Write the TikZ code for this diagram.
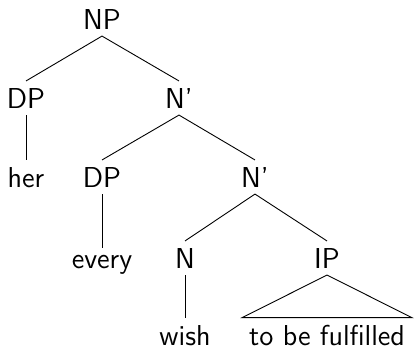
\documentclass[tikz,border=0pt]{standalone}
\begin{document}
\begin{tikzpicture}[x=0.5pt,y=-0.5pt,
  lbl/.style={anchor=base,inner sep=0.3333em,font=\fontsize{14.4}{17}\selectfont\sffamily},
  edge/.style={line width=0.45pt}]
\useasboundingbox (0,0) rectangle (417,350);
% node labels, placed on their baselines
\node[lbl] (np)    at (102,29)  {NP};
\node[lbl] (dpa)   at (26,108)  {DP};
\node[lbl] (nba)   at (179,108) {N'};
\node[lbl] (her)   at (26,187)  {her};
\node[lbl] (dpb)   at (102,187) {DP};
\node[lbl] (nbb)   at (255,187) {N'};
\node[lbl] (every) at (102,268) {every};
\node[lbl] (n)     at (185,268) {N};
\node[lbl] (ip)    at (327,268) {IP};
\node[lbl] (wish)  at (185,345) {wish};
\node[lbl] (tbf)   at (327,345) {to be fulfilled};
% branches
\draw[edge] (np.south) -- (dpa.north);
\draw[edge] (np.south) -- (nba.north);
\draw[edge] (dpa.south) -- (her.north);
\draw[edge] (nba.south) -- (dpb.north);
\draw[edge] (nba.south) -- (nbb.north);
\draw[edge] (dpb.south) -- (every.north);
\draw[edge] (nbb.south) -- (n.north);
\draw[edge] (nbb.south) -- (ip.north);
\draw[edge] (n.south) -- (wish.north);
% roof over the unanalysed IP
\draw[edge] (ip.south) -- (tbf.north west) -- (tbf.north east) -- cycle;
\end{tikzpicture}
\end{document}
